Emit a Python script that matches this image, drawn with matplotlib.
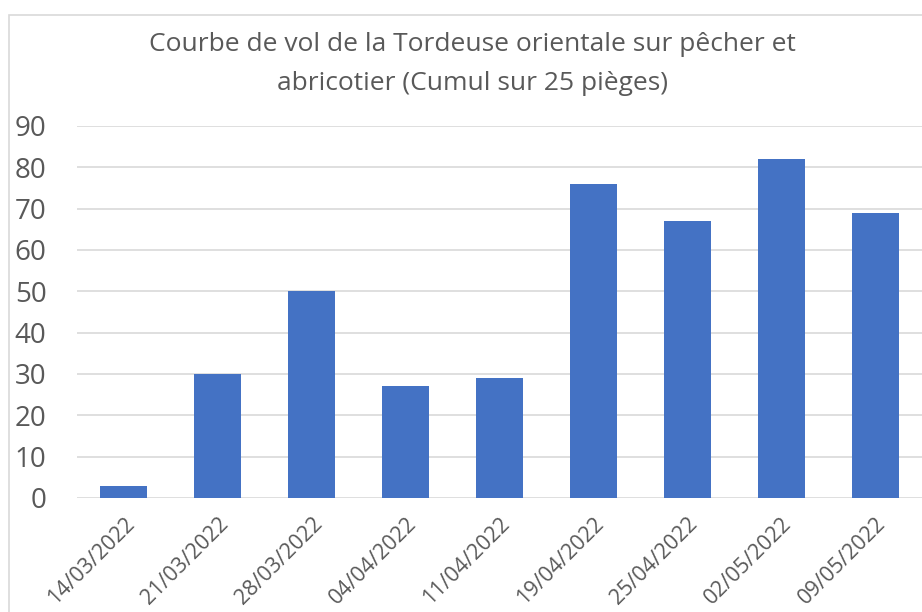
"""Bar chart: Tordeuse orientale flight curve on peach and apricot."""

import matplotlib
matplotlib.use("Agg")
import matplotlib.pyplot as plt
from matplotlib.patches import Rectangle

dates = [
    "14/03/2022", "21/03/2022", "28/03/2022", "04/04/2022", "11/04/2022",
    "19/04/2022", "25/04/2022", "02/05/2022", "09/05/2022",
]
captures = [3, 30, 50, 27, 29, 76, 67, 82, 69]
y_ticks = [0, 10, 20, 30, 40, 50, 60, 70, 80, 90]

TITLE = "Courbe de vol de la Tordeuse orientale sur pêcher et\nabricotier (Cumul sur 25 pièges)"
BAR_COLOR = "#4472C4"
TEXT_COLOR = "#595959"
GRID_COLOR = "#D9D9D9"

plt.rcParams["font.family"] = ["Open Sans", "DejaVu Sans"]

fig = plt.figure(figsize=(9.22, 6.12), dpi=100)
ax = fig.add_axes([77 / 922, 1 - 498 / 612, 1 - 77 / 922, (498 - 126) / 612])

# chart area border (cropped on the right and bottom)
fig.patches.append(Rectangle((9 / 922, -0.2), 1.5, 0.2 + 1 - 15 / 612,
                             transform=fig.transFigure, fill=False,
                             edgecolor=GRID_COLOR, linewidth=1.2))

x = range(len(dates))
ax.bar(x, captures, width=0.5, color=BAR_COLOR, zorder=3)

ax.set_xlim(-0.5, len(dates) - 0.5)
ax.set_ylim(0, 90)
ax.set_yticks(y_ticks)
ax.grid(axis="y", color=GRID_COLOR, linewidth=1.2, zorder=0)
for side in ["top", "right", "left", "bottom"]:
    ax.spines[side].set_visible(False)

ax.tick_params(axis="y", length=0, pad=22, labelsize=20, labelcolor=TEXT_COLOR)
ax.tick_params(axis="x", length=0, pad=11, labelsize=15.5, labelcolor=TEXT_COLOR)
ax.set_xticks(list(x))
ax.set_xticklabels(dates, rotation=45, ha="right", rotation_mode="anchor")

fig.text(0.512, 1 - 64 / 612, TITLE, ha="center", va="center",
         fontsize=19, color=TEXT_COLOR, linespacing=1.72)

fig.savefig("out.png", dpi=100)
